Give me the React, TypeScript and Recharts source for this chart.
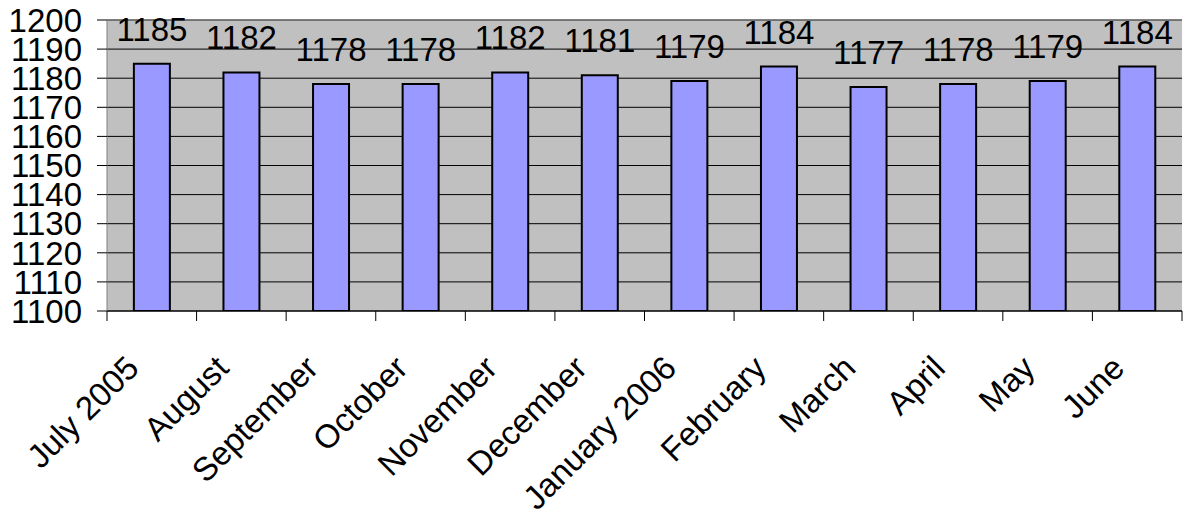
import React from 'react';
import { BarChart, Bar, XAxis, YAxis, CartesianGrid, LabelList, ReferenceLine } from 'recharts';

const months = ['July 2005', 'August', 'September', 'October', 'November', 'December', 'January 2006', 'February', 'March', 'April', 'May', 'June'];
const values = [1185, 1182, 1178, 1178, 1182, 1181, 1179, 1184, 1177, 1178, 1179, 1184];
const yTicks = [1100, 1110, 1120, 1130, 1140, 1150, 1160, 1170, 1180, 1190, 1200];

const data = months.map((m, i) => ({ month: m, value: values[i] }));

const FONT = '"Liberation Sans", Arial, sans-serif';
const FS = 33;
const W = 1183;
const H = 512;
const M = { top: 20, right: 1, bottom: 0, left: 0 };
const Y_W = 107;
const X_H = 201;
const BAND = (W - M.left - M.right - Y_W) / months.length;

const XTick = (props: any) => {
  const { x, y, payload, index } = props;
  const left = x - BAND / 2;
  const right = x + BAND / 2;
  return (
    <g>
      <line x1={left} y1={y} x2={left} y2={y + 10} stroke="#000" strokeWidth={1} />
      {index === months.length - 1 && (
        <line x1={right} y1={y} x2={right} y2={y + 10} stroke="#000" strokeWidth={1} />
      )}
      <text
        transform={`translate(${x - 11}, ${y + 59}) rotate(-45)`}
        textAnchor="end"
        fontFamily={FONT}
        fontSize={FS}
        fill="#000"
      >
        {payload.value}
      </text>
    </g>
  );
};

export default function App() {
  return (
    <div style={{ position: 'absolute', left: 0, top: 0, width: W, height: H, background: '#fff' }}>
      <BarChart width={W} height={H} data={data} margin={M} barCategoryGap="30%">
        <CartesianGrid vertical={false} stroke="#000" fill="#C0C0C0" fillOpacity={1} />
        <XAxis
          dataKey="month"
          height={X_H}
          interval={0}
          tickLine={false}
          tickSize={0}
          tickMargin={0}
          axisLine={{ stroke: '#000', strokeWidth: 1 }}
          tick={XTick}
        />
        <YAxis
          width={Y_W}
          domain={[1100, 1200]}
          ticks={yTicks}
          interval={0}
          tickSize={10}
          tickMargin={15}
          axisLine={{ stroke: '#808080', strokeWidth: 1 }}
          tickLine={{ stroke: '#000', strokeWidth: 1 }}
          tick={{ fontSize: FS, fontFamily: FONT, fill: '#000' }}
          allowDataOverflow
        />
        <ReferenceLine y={1200} stroke="#808080" strokeWidth={1} />
        <Bar dataKey="value" fill="#9999FF" stroke="#000" strokeWidth={2} isAnimationActive={false}>
          <LabelList dataKey="value" position="top" offset={23} fontSize={FS} fontFamily={FONT} fill="#000" />
        </Bar>
      </BarChart>
    </div>
  );
}
